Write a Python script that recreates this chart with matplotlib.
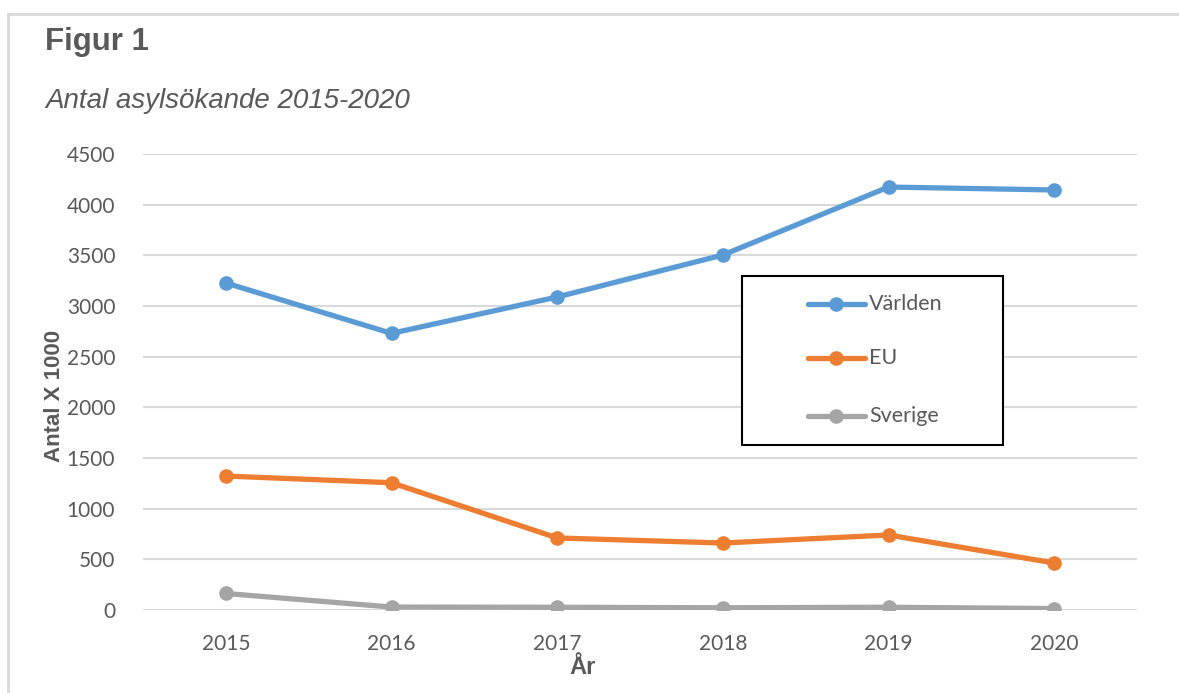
import matplotlib
matplotlib.use("Agg")
import matplotlib.pyplot as plt
from matplotlib.lines import Line2D
from matplotlib.patches import Rectangle

years = ["2015", "2016", "2017", "2018", "2019", "2020"]
varlden = [3227, 2730, 3089, 3503, 4174, 4145]
eu = [1322, 1256, 711, 661, 740, 464]
sverige = [163, 29, 27, 22, 27, 14]
series_names = ["Världen", "EU", "Sverige"]
yticks = [0, 500, 1000, 1500, 2000, 2500, 3000, 3500, 4000, 4500]

colors = ["#5B9BD5", "#ED7D31", "#A5A5A5"]
txt = "#595959"
tickfont = "Lato"

fig = plt.figure(figsize=(11.79, 6.93), dpi=100)
ax = fig.add_axes([143/1179, 1-610/693, (1137-143)/1179, (610-154)/693])

x = list(range(len(years)))
for vals, c, name in zip([varlden, eu, sverige], colors, series_names):
    ax.plot(x, vals, color=c, lw=3.8, marker="o", ms=9.5, label=name,
            solid_capstyle="round", zorder=3)

ax.set_xlim(-0.5, 5.5)
ax.set_ylim(0, 4500)
ax.set_yticks(yticks)
ax.set_xticks(x)
ax.set_xticklabels(years)
ax.grid(axis="y", color="#D9D9D9", lw=1.5)
ax.set_axisbelow(True)
for s in ax.spines.values():
    s.set_visible(False)
ax.tick_params(length=0, labelsize=15, labelcolor=txt)
ax.tick_params(axis="y", pad=20)
ax.tick_params(axis="x", pad=17)
for lab in ax.get_xticklabels() + ax.get_yticklabels():
    lab.set_fontfamily(tickfont)

fig.text(55/1179, 1-396/693, "Antal X 1000", fontsize=16, fontweight="bold",
         color=txt, family="Liberation Sans", rotation=90, ha="center", va="center")
fig.text(583/1179, 1-668/693, "År", fontsize=17, fontweight="bold", color=txt,
         family="Liberation Sans", ha="center", va="center")

fig.text(45/1179, 1-50/693, "Figur 1", fontsize=22.5, fontweight="bold",
         color=txt, family="Liberation Sans", va="baseline")
fig.text(45/1179, 1-108/693, "Antal asylsökande 2015-2020", fontsize=20,
         style="italic", color=txt, family="Liberation Sans", va="baseline")

# outer border (top and left)
fig.add_artist(Line2D([8/1179, 1.0], [1-14/693, 1-14/693], color="#D9D9D9", lw=2,
                      transform=fig.transFigure))
fig.add_artist(Line2D([8/1179, 8/1179], [0, 1-14/693], color="#D9D9D9", lw=2,
                      transform=fig.transFigure))

# legend box
fig.add_artist(Rectangle((742/1179, 1-445/693), 261/1179, 169/693,
                         transform=fig.transFigure, fill=True, facecolor="white",
                         edgecolor="black", lw=1.5, zorder=5))
leg_y = [304, 358, 416]
for name, c, yy in zip(series_names, colors, leg_y):
    yf = 1-yy/693
    fig.add_artist(Line2D([808/1179, 865/1179], [yf, yf], color=c, lw=3.8,
                          transform=fig.transFigure, zorder=6,
                          solid_capstyle="round"))
    fig.add_artist(Line2D([836/1179], [yf], color=c, marker="o", ms=9.5, lw=0,
                          transform=fig.transFigure, zorder=7))
    fig.text(869/1179, yf, name, fontsize=15.5, color=txt, family=tickfont,
             va="center", ha="left", zorder=8)

fig.savefig("out.png", dpi=100, facecolor="white")
